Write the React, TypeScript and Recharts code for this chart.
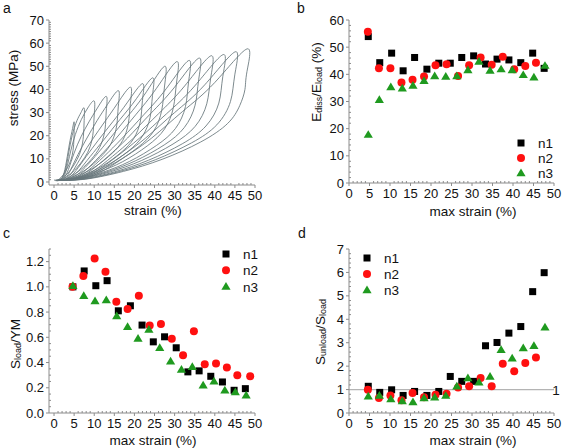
import { ComposedChart, ScatterChart, Scatter, Line, XAxis, YAxis, ReferenceLine } from 'recharts'

const FONT = '"Liberation Sans", Arial, Helvetica, sans-serif'
const AXIS = '#8c8c8c'
const LOOP = '#66767a'
const RED = '#ff1010'
const GREEN = '#1f9a1f'

// panel a: cyclic stress-strain loops, loading branch then unloading branch, [strain, stress]
const loading = [
  [[0, 0.8], [1.5, 1.2], [2.5, 4], [3.3, 11], [4, 18], [4.6, 23], [5, 26]],
  [[0.5, 0.8], [1.8, 1.3], [2.8, 5], [3.6, 12], [4.5, 20], [5.7, 26.5], [6.7, 30], [7.5, 32]],
  [[0.8, 0.8], [2.1, 1.4], [3.1, 5.5], [4.1, 13], [5.3, 20.5], [6.8, 27], [8.4, 32], [10, 35]],
  [[1, 0.9], [2.4, 1.5], [3.6, 5.5], [5, 12.5], [6.7, 19.5], [8.7, 26], [10.8, 32], [13, 37]],
  [[1.2, 0.9], [2.8, 1.6], [4.2, 5.5], [6, 12], [8.2, 19], [10.7, 26.5], [13.3, 33.5], [16, 39.5]],
  [[1.5, 0.9], [3.2, 1.6], [4.8, 5], [7, 11.5], [9.6, 18.5], [12.6, 26], [15.8, 34], [19, 41]],
  [[1.8, 0.9], [3.6, 1.7], [5.5, 5], [8, 11], [11, 18], [14.6, 26], [18.3, 34.5], [22, 42.5]],
  [[2, 0.9], [4, 1.7], [6.2, 5], [9, 11], [12.5, 18.5], [16.4, 27], [20.5, 36], [24.5, 45]],
  [[2.2, 0.9], [4.5, 1.8], [7, 5], [10.2, 11], [14, 19], [18.4, 28.5], [23, 39], [27.5, 50]],
  [[2.5, 1], [5, 1.8], [7.8, 5], [11.3, 11], [15.5, 19], [20.3, 29], [25.5, 40.5], [30.5, 52]],
  [[2.7, 1], [5.5, 1.9], [8.5, 5], [12.4, 11], [17, 19], [22.3, 29], [28, 40.5], [33.5, 52.5]],
  [[3, 1], [6, 1.9], [9.2, 5], [13.4, 11], [18.3, 19], [24, 29.5], [30, 41], [36, 53.5]],
  [[3.2, 1], [6.5, 2], [10, 5], [14.5, 11], [19.8, 19], [26, 29.5], [32.5, 41.5], [39, 54.5]],
  [[3.4, 1], [7, 2], [10.8, 5], [15.6, 11], [21.3, 19], [28, 29.5], [35, 41.5], [42, 55]],
  [[3.6, 1], [7.5, 2], [11.6, 5], [16.7, 11], [22.8, 19], [30, 30], [37.5, 42], [45, 56.2]],
  [[3.8, 1], [8, 2], [12.4, 5], [17.8, 11], [24.3, 19], [32, 30.5], [40, 43], [48, 57.5]],
]

const unloading = [
  [[5, 21.6], [4.88, 16.1], [4.5, 11.4], [3.8, 7.8], [2.8, 4.4], [1.8, 2.1], [0.9, 0.8], [0.3, 0.6]],
  [[7.5, 26.6], [7.31, 19.8], [6.75, 14.1], [5.7, 9.6], [4.2, 5.4], [2.7, 2.6], [1.35, 0.8], [0.5, 0.6]],
  [[10, 29], [9.75, 21.7], [9, 15.4], [7.6, 10.5], [5.6, 6], [3.6, 2.8], [1.8, 0.9], [0.7, 0.6]],
  [[13, 30.7], [12.7, 22.9], [11.7, 16.3], [9.9, 11.1], [7.3, 6.3], [4.7, 3], [2.3, 0.9], [0.9, 0.7]],
  [[16, 32.8], [15.6, 24.5], [14.4, 17.4], [12.2, 11.9], [9, 6.7], [5.8, 3.2], [2.9, 1], [1.1, 0.7]],
  [[19, 34], [18.5, 25.4], [17.1, 18], [14.4, 12.3], [10.6, 7], [6.8, 3.3], [3.4, 1], [1.4, 0.7]],
  [[22, 35.3], [21.5, 26.4], [19.8, 18.7], [16.7, 12.8], [12.3, 7.2], [7.9, 3.4], [4, 1.1], [1.6, 0.7]],
  [[24.5, 37.4], [23.9, 27.9], [22, 19.8], [18.6, 13.5], [13.7, 7.7], [8.8, 3.6], [4.4, 1.1], [1.8, 0.8]],
  [[27.5, 41.5], [26.8, 31], [24.8, 22], [20.9, 15], [15.4, 8.5], [9.9, 4], [5, 1.3], [2, 0.8]],
  [[30.5, 43.2], [29.7, 32.2], [27.5, 22.9], [23.2, 15.6], [17.1, 8.8], [11, 4.2], [5.5, 1.3], [2.3, 0.8]],
  [[33.5, 43.6], [32.7, 32.6], [30.2, 23.1], [25.5, 15.8], [18.8, 8.9], [12.1, 4.2], [6, 1.3], [2.5, 0.9]],
  [[36, 44.4], [35.1, 33.2], [32.4, 23.5], [27.4, 16], [20.2, 9.1], [13, 4.3], [6.5, 1.3], [2.8, 0.9]],
  [[39, 45.2], [38, 33.8], [35.1, 24], [29.6, 16.4], [21.8, 9.3], [14, 4.4], [7, 1.4], [3, 0.9]],
  [[42, 45.7], [41, 34.1], [37.8, 24.2], [31.9, 16.5], [23.5, 9.4], [15.1, 4.4], [7.6, 1.4], [3.2, 0.9]],
  [[45, 46.6], [43.9, 34.8], [40.5, 24.7], [34.2, 16.9], [25.2, 9.6], [16.2, 4.5], [8.1, 1.4], [3.4, 0.9]],
  [[48, 47.7], [47.5, 40], [46.2, 33], [43.2, 25.3], [36.5, 17.3], [26.9, 9.8], [17.3, 4.6], [8.6, 1.4], [3.6, 0.9]],
]

// max strain (%) of each cycle, per sample
const strainN1 = [4.7, 7.5, 10.4, 13.2, 16.0, 19.0, 21.9, 24.7, 27.5, 30.4, 33.3, 36.1, 39.0, 41.9, 44.8, 47.6]
const strainN2 = [4.6, 7.3, 10.1, 12.8, 15.5, 18.3, 21.1, 23.8, 26.6, 29.3, 32.1, 34.8, 37.5, 40.3, 43.0, 45.6, 48.8]
const strainN3 = [4.7, 7.4, 10.2, 13.0, 15.6, 18.3, 20.9, 23.6, 26.3, 29.0, 31.7, 34.4, 37.1, 39.8, 42.5, 45.1, 47.8]

// panel b: Ediss/Eload (%)
const dissN1 = [53.9, 44.3, 47.8, 41.3, 46.2, 41.9, 44.1, 44.1, 46.2, 46.8, 43.8, 45.6, 45.3, 44.3, 47.8, 42.2]
const dissN2 = [55.7, 42.2, 42.2, 37.0, 38.0, 39.2, 43.3, 43.7, 39.4, 43.3, 46.2, 43.5, 46.5, 41.9, 43.1, 44.3]
const dissN3 = [17.8, 30.6, 35.3, 34.9, 35.9, 37.6, 39.4, 39.2, 39.4, 41.6, 44.7, 41.4, 41.9, 41.6, 39.8, 38.9, 43.2]

// panel c: Sload/YM
const sloadN1 = [1.0, 1.126, 1.009, 1.049, 0.81, 0.85, 0.697, 0.564, 0.604, 0.517, 0.326, 0.334, 0.291, 0.246, 0.18, 0.193]
const sloadN2 = [1.0, 1.086, 1.224, 1.12, 0.882, 0.824, 0.93, 0.694, 0.705, 0.588, 0.458, 0.649, 0.387, 0.392, 0.36, 0.3, 0.291]
const sloadN3 = [1.009, 0.93, 0.887, 0.895, 0.768, 0.683, 0.59, 0.662, 0.517, 0.41, 0.344, 0.366, 0.22, 0.252, 0.18, 0.167, 0.14]

// panel d: Sunload/Sload
const ratioN1 = [1.14, 0.88, 0.99, 0.75, 0.92, 0.75, 0.92, 1.56, 1.35, 1.35, 2.87, 3.01, 3.41, 3.69, 5.18, 5.99]
const ratioN2 = [0.99, 0.64, 0.75, 0.54, 0.85, 0.67, 0.78, 0.82, 1.09, 1.14, 1.49, 1.14, 2.1, 1.78, 2.13, 2.37]
const ratioN3 = [0.71, 0.75, 0.6, 0.51, 0.47, 0.64, 0.67, 0.74, 1.14, 1.49, 1.31, 1.56, 2.7, 2.34, 2.77, 2.87, 3.66]

const range = (a: number, b: number, step: number) =>
  Array.from({ length: Math.round((b - a) / step) + 1 }, (_, i) => +(a + i * step).toFixed(3))

const pts = (xs: number[], ys: number[]) => ys.map((y, i) => ({ x: xs[i], y }))

const loops = loading.map((l, i) => [...l, ...unloading[i]].map(([x, y]) => ({ x, y })))

const isMajor = (v: number, major: number) => Math.abs(v / major - Math.round(v / major)) < 1e-6

const xTick = (major: number) => (p: any) => {
  const v = p.payload.value
  const big = isMajor(v, major)
  return (
    <g>
      <line x1={p.x} x2={p.x} y1={p.y} y2={big ? p.y + 3 : p.y - 2} stroke={AXIS} />
      {big && (
        <text x={p.x} y={p.y + 14.5} textAnchor="middle" fontSize={13} fill="#111" fontFamily={FONT}>
          {v}
        </text>
      )}
    </g>
  )
}

const yTick = (major: number, digits: number, top: number) => (p: any) => {
  const v = p.payload.value
  const big = isMajor(v, major) && v <= top
  return (
    <g>
      <line x1={p.x} x2={big ? p.x - 3 : p.x + 2} y1={p.y} y2={p.y} stroke={AXIS} />
      {big && (
        <text x={p.x - 5} y={p.y + 4.6} textAnchor="end" fontSize={13} fill="#111" fontFamily={FONT}>
          {v.toFixed(digits)}
        </text>
      )}
    </g>
  )
}

const Square = (p: any) => <rect x={p.cx - 3.5} y={p.cy - 3.5} width={7} height={7} fill="#000" />
const Dot = (p: any) => <circle cx={p.cx} cy={p.cy} r={4} fill={RED} />
const Tri = (p: any) => (
  <polygon points={`${p.cx},${p.cy - 4.5} ${p.cx + 4.6},${p.cy + 3.2} ${p.cx - 4.6},${p.cy + 3.2}`} fill={GREEN} />
)

const axisProps = {
  type: 'number' as const,
  interval: 0 as const,
  tickSize: 0,
  tickMargin: 0,
  tickLine: false,
  axisLine: { stroke: AXIS },
  allowDataOverflow: true,
}

function ScatterPanel({ left, top, w, h, margin, xDomain, yDomain, yTicks, yMajor, yDigits, yTop, yWidth, xHeight, n1, n2, n3, refOne }: any) {
  return (
    <div style={{ position: 'absolute', left, top }}>
      <ScatterChart width={w} height={h} margin={margin}>
        <XAxis {...axisProps} dataKey="x" domain={xDomain} ticks={range(0, 50, 1)} height={xHeight} tick={xTick(5)} />
        <YAxis {...axisProps} dataKey="y" domain={yDomain} ticks={yTicks} width={yWidth} tick={yTick(yMajor, yDigits, yTop)} />
        {refOne && <ReferenceLine y={1} stroke="#b4b4b4" strokeWidth={1.2} />}
        <Scatter data={n1} shape={Square} isAnimationActive={false} />
        <Scatter data={n2} shape={Dot} isAnimationActive={false} />
        <Scatter data={n3} shape={Tri} isAnimationActive={false} />
      </ScatterChart>
    </div>
  )
}

function LegendBox({ x, y, dy }: { x: number; y: number; dy: number }) {
  const labels = ['n1', 'n2', 'n3']
  const shapes = [Square, Dot, Tri]
  return (
    <g>
      {labels.map((t, i) => {
        const S = shapes[i]
        return (
          <g key={t}>
            <S cx={x} cy={y + i * dy} />
            <text x={x + 17} y={y + i * dy + 5} fontSize={13.5} fill="#111" fontFamily={FONT}>
              {t}
            </text>
          </g>
        )
      })}
    </g>
  )
}

const title = { fontSize: 13.5, fill: '#111', fontFamily: FONT, textAnchor: 'middle' as const }

export default function App() {
  return (
    <div style={{ position: 'absolute', left: 0, top: 0, width: 562, height: 448, background: '#fff' }}>
      <div style={{ position: 'absolute', left: 0, top: 0 }}>
        <ComposedChart width={280} height={220} margin={{ top: 20, right: 25, left: 0, bottom: 0 }}>
          <XAxis {...axisProps} dataKey="x" domain={[-1.25, 50]} ticks={range(0, 50, 1)} height={35} tick={xTick(5)} />
          <YAxis {...axisProps} dataKey="y" domain={[-1.3, 70]} ticks={range(0, 70, 1)} width={49} tick={yTick(10, 0, 70)} />
          {loops.map((d, i) => (
            <Line
              key={i}
              data={d}
              dataKey="y"
              type="natural"
              dot={false}
              stroke={LOOP}
              strokeWidth={1}
              strokeOpacity={0.85}
              isAnimationActive={false}
            />
          ))}
        </ComposedChart>
      </div>

      <ScatterPanel
        left={280} top={0} w={282} h={220}
        margin={{ top: 20, right: 8, left: 0, bottom: 0 }}
        xDomain={[0, 50]} yDomain={[0, 60]} yTicks={range(0, 60, 2)} yMajor={10} yDigits={0} yTop={60}
        yWidth={69} xHeight={37}
        n1={pts(strainN1, dissN1)} n2={pts(strainN2, dissN2)} n3={pts(strainN3, dissN3)}
      />
      <ScatterPanel
        left={0} top={220} w={280} h={228}
        margin={{ top: 29, right: 25, left: 0, bottom: 0 }}
        xDomain={[-1.25, 50]} yDomain={[0, 1.3]} yTicks={range(0, 1.3, 0.05)} yMajor={0.2} yDigits={1} yTop={1.2}
        yWidth={49} xHeight={35}
        n1={pts(strainN1, sloadN1)} n2={pts(strainN2, sloadN2)} n3={pts(strainN3, sloadN3)}
      />
      <ScatterPanel
        left={280} top={220} w={282} h={228}
        margin={{ top: 29, right: 8, left: 0, bottom: 0 }}
        xDomain={[0, 50]} yDomain={[0, 7]} yTicks={range(0, 7, 0.2)} yMajor={1} yDigits={0} yTop={7}
        yWidth={69} xHeight={35}
        n1={pts(strainN1, ratioN1)} n2={pts(strainN2, ratioN2)} n3={pts(strainN3, ratioN3)}
        refOne
      />

      <svg width={562} height={448} style={{ position: 'absolute', left: 0, top: 0, pointerEvents: 'none' }}>
        <g fontFamily={FONT} fill="#111" fontSize={14}>
          <text x={3} y={13}>a</text>
          <text x={297} y={13}>b</text>
          <text x={3} y={238}>c</text>
          <text x={298} y={238}>d</text>
        </g>

        <text x={13} y={88} {...title} dominantBaseline="central" transform="rotate(-90 13 88)">stress (MPa)</text>
        <text x={153} y={214.5} {...title}>strain (%)</text>

        <text x={316} y={82} {...title} dominantBaseline="central" transform="rotate(-90 316 82)">
          E<tspan fontSize={9} dy={3}>diss</tspan>
          <tspan dy={-3}>/E</tspan>
          <tspan fontSize={9} dy={3}>load</tspan>
          <tspan dy={-3}> (%)</tspan>
        </text>
        <text x={473} y={216} {...title}>max strain (%)</text>

        <text x={15} y={344} {...title} dominantBaseline="central" transform="rotate(-90 15 344)">
          S<tspan fontSize={9} dy={3}>load</tspan>
          <tspan dy={-3}>/YM</tspan>
        </text>
        <text x={153} y={444.5} {...title}>max strain (%)</text>

        <text x={320} y={332} {...title} dominantBaseline="central" transform="rotate(-90 320 332)">
          S<tspan fontSize={9} dy={3}>unload</tspan>
          <tspan dy={-3}>/S</tspan>
          <tspan fontSize={9} dy={3}>load</tspan>
        </text>
        <text x={473} y={444.5} {...title}>max strain (%)</text>

        <text x={556} y={394.5} {...title}>1</text>

        <LegendBox x={521} y={143} dy={15} />
        <LegendBox x={226} y={254} dy={16.3} />
        <LegendBox x={367} y={258} dy={16} />
      </svg>
    </div>
  )
}
